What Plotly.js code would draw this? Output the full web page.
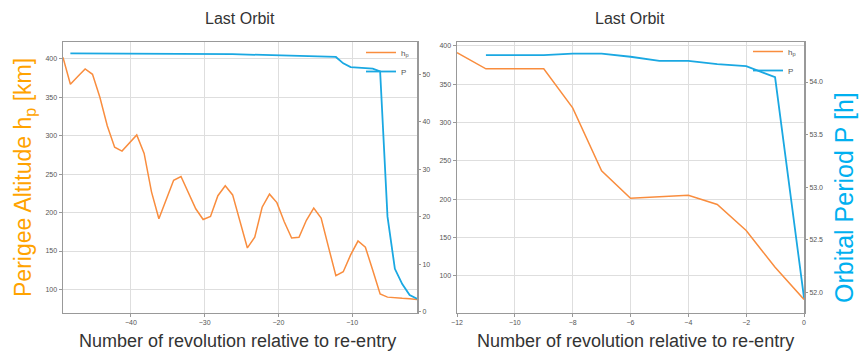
<!DOCTYPE html>
<html>
<head>
<meta charset="utf-8">
<script src="https://cdn.plot.ly/plotly-3.0.1.min.js"></script>
<style>
  html, body { margin: 0; padding: 0; background: #fff; }
  #chart { width: 860px; height: 351px; }
</style>
</head>
<body>
<div id="chart"></div>
<script>
// ---- Left panel: last ~49 revolutions ----
const revLeftHp = [-49.2, -48.2, -47.2, -46.2, -45.2, -44.2, -43.2, -42.2, -41.2, -40.2,
                   -39.2, -38.2, -37.2, -36.2, -35.2, -34.2, -33.2, -32.2, -31.2, -30.2,
                   -29.2, -28.2, -27.2, -26.2, -25.2, -24.2, -23.2, -22.2, -21.2, -20.2,
                   -19.2, -18.2, -17.2, -16.2, -15.2, -14.2, -13.2, -12.2, -11.2, -10.2,
                   -9.2, -8.2, -7.2, -6.2, -5.2, -4.2, -3.2, -2.2, -1.2];
const hpLeft = [402, 367, 377, 387, 380, 350, 313, 285, 280, 291,
                301, 277, 227, 192, 216, 242, 247, 227, 205, 191,
                195, 222, 235, 223, 190, 154, 168, 207, 224, 213,
                188, 167, 168, 190, 206, 193, 155, 118, 123, 145,
                163, 155, 125, 94, 90, 89, 88.5, 88, 87];
const revLeftP = [-48.2, -47.2, -46.2, -45.2, -44.2, -43.2, -42.2, -41.2, -40.2,
                  -39.2, -38.2, -37.2, -36.2, -35.2, -34.2, -33.2, -32.2, -31.2, -30.2,
                  -29.2, -28.2, -27.2, -26.2, -25.2, -24.2, -23.2, -22.2, -21.2, -20.2,
                  -19.2, -18.2, -17.2, -16.2, -15.2, -14.2, -13.2, -12.2, -11.2, -10.2,
                  -9.2, -8.2, -7.2, -6.2, -5.2, -4.2, -3.2, -2.2, -1.2];
const pLeft = [54.4, 54.4, 54.4, 54.4, 54.4, 54.4, 54.4, 54.4, 54.4,
               54.4, 54.4, 54.4, 54.4, 54.4, 54.4, 54.4, 54.4, 54.4, 54.35,
               54.35, 54.3, 54.3, 54.25, 54.2, 54.15, 54.1, 54.1, 54.1, 54.05,
               54.0, 54.0, 53.95, 53.9, 53.85, 53.8, 53.75, 53.65, 52.3, 51.5,
               51.4, 51.35, 51.2, 50.6, 20, 9, 5.8, 3.5, 2.7];

// ---- Right panel: last orbit (12 revolutions) ----
const revRightHp = [-12, -11, -10, -9, -8, -7, -6, -5, -4, -3, -2, -1, 0];
const hpRight = [391, 370, 370, 370, 319, 237, 201, 203, 205, 193, 159, 111, 69];
const revRightP = [-11, -10, -9, -8, -7, -6, -5, -4, -3, -2, -1, 0];
const pRight = [54.255, 54.255, 54.255, 54.27, 54.27, 54.24, 54.2, 54.2, 54.17, 54.15, 54.045, 51.95];

// tick labels
const xTicksLeft = [-40, -30, -20, -10];
const xTicksRight = [-12, -10, -8, -6, -4, -2, 0];
const hpTicks = [100, 150, 200, 250, 300, 350, 400];
const pTicksLeft = [0, 10, 20, 30, 40, 50];
const pTicksRight = [52.0, 52.5, 53.0, 53.5, 54.0];

const ORANGE = '#F98D3E';
const BLUE = '#1AA8E2';
const W = 860, H = 351;
const plotTop = 42, plotBottom = 312.5;
const yDom = [1 - plotBottom / H, 1 - plotTop / H];

const traces = [
  { x: revLeftHp, y: hpLeft, xaxis: 'x', yaxis: 'y', mode: 'lines', name: 'h<sub>p</sub>',
    line: { color: ORANGE, width: 1.5 }, legend: 'legend' },
  { x: revLeftP, y: pLeft, xaxis: 'x', yaxis: 'y2', mode: 'lines', name: 'P',
    line: { color: BLUE, width: 1.8 }, legend: 'legend' },
  { x: revRightHp, y: hpRight, xaxis: 'x2', yaxis: 'y3', mode: 'lines', name: 'h<sub>p</sub>',
    line: { color: ORANGE, width: 1.5 }, legend: 'legend2' },
  { x: revRightP, y: pRight, xaxis: 'x2', yaxis: 'y4', mode: 'lines', name: 'P',
    line: { color: BLUE, width: 1.8 }, legend: 'legend2' }
];

const tickFont = { size: 7, color: '#555' };
const baseAxis = {
  showline: true, linecolor: '#999', linewidth: 1.5,
  ticks: 'outside', ticklen: 3, tickcolor: '#999', tickwidth: 1,
  tickfont: tickFont, zeroline: false, fixedrange: true
};

const legendBase = {
  font: { size: 8, color: '#555' }, bgcolor: 'rgba(255,255,255,0)',
  borderwidth: 0, itemwidth: 30, tracegroupgap: 0, yanchor: 'top', xanchor: 'right'
};

function ann(text, x, y, size, color, angle) {
  return { text: text, xref: 'paper', yref: 'paper', x: x / W, y: 1 - y / H,
    xanchor: 'center', yanchor: 'middle', showarrow: false, textangle: angle || 0,
    font: { size: size, color: color } };
}

const layout = {
  width: W, height: H,
  margin: { l: 0, r: 0, t: 0, b: 0 },
  paper_bgcolor: '#fff', plot_bgcolor: '#fff',
  font: { family: 'Liberation Sans, Arial, sans-serif', color: '#333' },
  showlegend: true,
  xaxis: Object.assign({}, baseAxis, {
    domain: [63 / W, 417 / W], anchor: 'y', range: [-49.2, -1.2],
    tickvals: xTicksLeft, showgrid: true, gridcolor: '#dedede', mirror: true
  }),
  yaxis: Object.assign({}, baseAxis, {
    domain: yDom, anchor: 'x', range: [70, 422],
    tickvals: hpTicks, showgrid: true, gridcolor: '#dedede', mirror: true
  }),
  yaxis2: Object.assign({}, baseAxis, {
    overlaying: 'y', side: 'right', anchor: 'x', range: [-0.2, 56.8],
    tickvals: pTicksLeft, showgrid: false, showline: false
  }),
  xaxis2: Object.assign({}, baseAxis, {
    domain: [457 / W, 804 / W], anchor: 'y3', range: [-12, 0],
    tickvals: xTicksRight, showgrid: true, gridcolor: '#dedede', mirror: true
  }),
  yaxis3: Object.assign({}, baseAxis, {
    domain: yDom, anchor: 'x2', range: [52, 405],
    tickvals: hpTicks, showgrid: true, gridcolor: '#dedede', mirror: true
  }),
  yaxis4: Object.assign({}, baseAxis, {
    overlaying: 'y3', side: 'right', anchor: 'x2', range: [51.81, 54.38],
    tickvals: pTicksRight, tickformat: '.1f', showgrid: false, showline: false
  }),
  legend: Object.assign({}, legendBase, { x: 414 / W, y: 1 - 38 / H }),
  legend2: Object.assign({}, legendBase, { x: 801 / W, y: 1 - 37 / H }),
  annotations: [
    ann('Last Orbit', 240, 19, 16, '#333'),
    ann('Last Orbit', 630, 18, 16, '#333'),
    ann('Perigee Altitude h<sub>p</sub> [km]', 24, 178, 23, '#FFA300', -90),
    ann('Orbital Period P [h]', 844, 198, 25, '#00B0F0', -90),
    ann('Number of revolution relative to re-entry', 237.5, 341, 18, '#333'),
    ann('Number of revolution relative to re-entry', 635.5, 341, 18, '#333')
  ]
};

Plotly.newPlot('chart', traces, layout, { displayModeBar: false, staticPlot: true });
</script>
</body>
</html>
